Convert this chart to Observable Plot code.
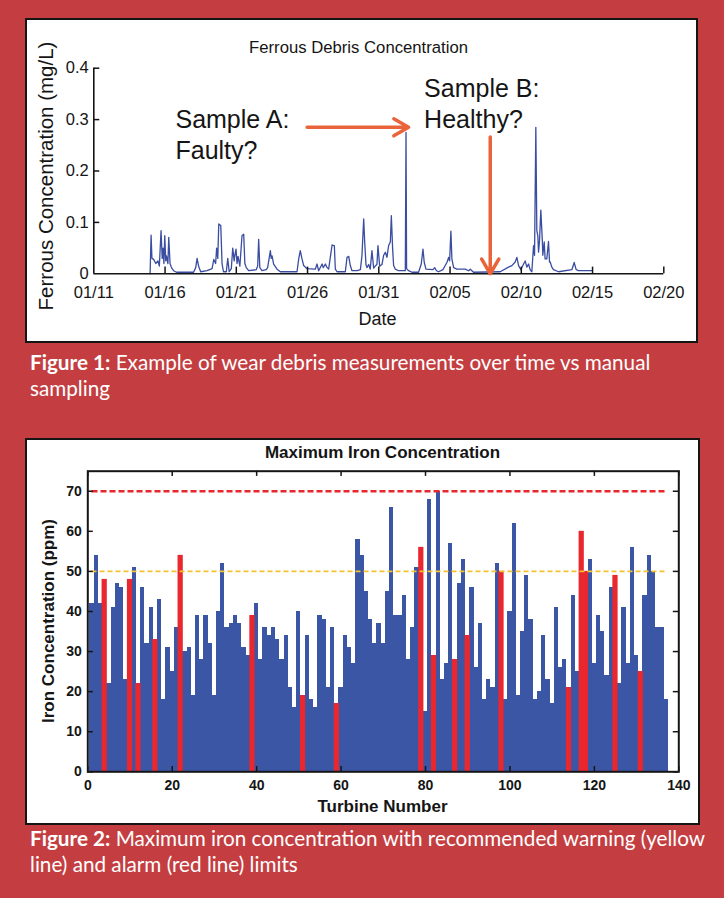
<!DOCTYPE html>
<html><head><meta charset="utf-8">
<script src="https://cdn.jsdelivr.net/npm/d3@7"></script>
<script src="https://cdn.jsdelivr.net/npm/@observablehq/plot@0.6"></script>
<style>
html,body{margin:0;padding:0;}
body{width:724px;height:898px;background:#C43E41;position:relative;overflow:hidden;font-family:Lato,"Open Sans",sans-serif;}
.box{position:absolute;background:#fff;border:2.5px solid #151515;box-sizing:border-box;}
.chart{position:absolute;}
.cap{position:absolute;left:30px;color:#fff;font-size:20.7px;line-height:26.5px;white-space:nowrap;}
.cap b{font-weight:700;}
.ylab{position:absolute;white-space:nowrap;line-height:1;color:#151515;font-family:"Liberation Sans",Arial,sans-serif;transform:translate(-50%,-50%) rotate(-90deg);}
</style></head><body>
<div class="box" style="left:25px;top:18px;width:673px;height:325px"></div>
<div id="c1" class="chart" style="left:26px;top:20px"></div>
<div class="ylab" style="left:45.5px;top:176px;font-size:20.5px">Ferrous Concentration (mg/L)</div>
<div class="cap" style="top:348.5px"><b>Figure 1:</b> Example of wear debris measurements over time vs manual<br>sampling</div>
<div class="box" style="left:25px;top:438px;width:675px;height:387px"></div>
<div id="c2" class="chart" style="left:26px;top:441px"></div>
<div class="ylab" style="left:48px;top:621px;font-size:17px;font-weight:bold">Iron Concentration (ppm)</div>
<div class="cap" style="top:824.5px"><b>Figure 2:</b> Maximum iron concentration with recommended warning (yellow<br>line) and alarm (red line) limits</div>
<script>
// ---------- Figure 1 data: days after 01/11 and ferrous concentration (mg/L)
const debrisDay = [3.95,4.02,4.08,4.2,4.35,4.5,4.6,4.72,4.8,4.86,4.92,4.98,5.05,5.1,5.2,5.26,5.35,5.45,5.6,5.8,
7.0,7.15,7.25,7.35,7.5,7.95,8.3,8.42,8.55,8.62,8.7,8.77,8.91,9.0,9.1,9.3,9.4,9.5,9.65,9.75,
9.85,9.89,9.98,10.05,10.12,10.25,10.4,10.52,10.6,10.7,10.87,11.4,11.5,11.57,11.65,11.8,12.1,12.2,12.39,12.45,
12.51,12.62,12.86,13.09,14.26,14.38,14.49,14.61,14.73,14.96,15.55,15.66,15.78,16.02,16.1,16.25,16.35,16.48,16.72,16.88,
16.95,17.07,17.65,17.77,17.89,18.0,18.12,18.47,18.71,18.82,18.94,19.01,19.1,19.17,19.29,19.4,19.52,19.64,19.75,19.87,
19.94,20.06,20.22,20.34,20.46,20.57,20.69,20.81,20.88,20.97,21.04,21.16,21.39,21.86,21.91,21.95,22.09,22.33,22.79,22.98,
23.1,23.19,23.31,23.8,23.92,24.05,24.2,24.5,24.78,24.9,24.97,25.06,25.13,25.25,25.48,26.07,26.3,26.42,26.65,28.52,
29.1,29.34,29.57,29.69,29.81,29.97,30.16,30.27,30.39,30.51,30.62,30.74,30.86,30.93,31.02,31.09,31.16,31.21,31.28,31.37,
31.47,31.51,31.61,31.67,31.79,31.91,31.98,32.03,32.14,32.26,32.61,33.55,33.71,33.85,34.01,34.95];
const debrisValue = [0,0.075,0.03,0.028,0.02,0.025,0.015,0.084,0.03,0.05,0.02,0.074,0.025,0.035,0.02,0.071,0.02,0.012,0.006,0.003,
0.003,0.012,0.03,0.015,0.004,0.006,0.01,0.028,0.02,0.05,0.03,0.097,0.094,0.02,0.004,0.004,0.03,0.004,0.01,0.05,
0.025,0.035,0.048,0.02,0.034,0.015,0.074,0.077,0.02,0.012,0.006,0.008,0.015,0.067,0.012,0.006,0.008,0.012,0.045,0.03,
0.035,0.019,0.009,0.004,0.004,0.029,0.045,0.029,0.016,0.01,0.009,0.019,0.006,0.019,0.012,0.019,0.013,0.009,0.056,0.055,
0.009,0.004,0.004,0.032,0.034,0.016,0.006,0.006,0.008,0.036,0.107,0.062,0.018,0.012,0.018,0.009,0.045,0.011,0.015,0.018,
0.055,0.015,0.018,0.036,0.042,0.032,0.055,0.062,0.113,0.049,0.016,0.009,0.006,0.006,0.275,0.01,0.006,0.003,0.003,0.019,
0.048,0.022,0.009,0.008,0.012,0.006,0.004,0.008,0.022,0.032,0.025,0.083,0.029,0.012,0.009,0.009,0.006,0.009,0.003,0.004,
0.013,0.016,0.023,0.032,0.016,0.008,0.019,0.025,0.013,0.019,0.008,0.004,0.055,0.036,0.285,0.084,0.074,0.042,0.065,0.124,
0.068,0.036,0.062,0.029,0.029,0.063,0.023,0.023,0.013,0.008,0.004,0.008,0.022,0.008,0.006,0.006];
const dateTickLabels = ["01/11","01/16","01/21","01/26","01/31","02/05","02/10","02/15","02/20"];
const debrisTicks = [0, 0.1, 0.2, 0.3, 0.4];
const debrisTickLabels = ["0", "0.1", "0.2", "0.3", "0.4"];
// annotations
const noteText = ["Sample A:\nFaulty?", "Sample B:\nHealthy?"];
const noteDay = [5.73, 23.18];
const noteValue = [0.3274, 0.386];
const arrowFromDay = [14.97, 27.82], arrowFromValue = [0.285, 0.266];
const arrowToDay = [22.09, 27.82], arrowToValue = [0.285, 0.0];

// ---------- Figure 2 data: max iron concentration (ppm) for turbines 1..137
const ironPpm = [42,54,42,48,22,41,47,46,23,48,51,22,46,32,41,33,43,18,31,25,
36,54,30,31,19,39,28,39,32,19,40,52,36,37,39,37,31,29,39,42,
28,36,34,36,33,28,34,21,16,40,19,34,18,16,39,38,21,36,17,21,
34,31,27,58,54,45,38,32,37,32,45,66,39,39,44,28,36,51,56,15,
68,29,70,23,27,57,28,47,53,34,46,26,37,18,23,21,52,50,18,40,
62,19,35,49,38,18,20,34,23,17,41,26,28,21,44,25,60,50,53,27,
39,35,24,46,49,22,41,27,56,29,25,44,54,50,36,36,18];
const alarmTurbines = [4,10,12,16,22,39,51,59,79,82,87,90,98,114,117,118,125,131];
const turbineTicks = [0,20,40,60,80,100,120,140];
const ppmTicks = [0,10,20,30,40,50,60,70];
const limitValues = [50, 70];
const limitColors = ["#F3C22E", "#E8262D"];

// ---------- Figure 1
const day0 = Date.UTC(2013, 0, 11);
const toDate = d => new Date(day0 + d * 864e5);
const debris = debrisDay.map((d, i) => ({date: toDate(d), value: debrisValue[i]}));
const xTicks = dateTickLabels.map(s => { const [m, dd] = s.split("/"); return new Date(Date.UTC(2013, +m - 1, +dd)); });
const notes = noteText.map((t, i) => ({text: t, date: toDate(noteDay[i]), value: noteValue[i]}));
const arrows = arrowFromDay.map((d, i) => ({x1: toDate(d), y1: arrowFromValue[i], x2: toDate(arrowToDay[i]), y2: arrowToValue[i]}));
const ink = "#151515";

const p1 = Plot.plot({
  width: 671, height: 322,
  marginLeft: 67.3, marginRight: 33.7, marginTop: 47.7, marginBottom: 68.7,
  style: {fontFamily: '"Liberation Sans", Arial, sans-serif', fontSize: "16.5px", background: "transparent", color: ink, overflow: "visible"},
  x: {type: "utc", domain: [xTicks[0], xTicks[xTicks.length - 1]]},
  y: {domain: [0, 0.4]},
  marks: [
    Plot.line(debris, {x: "date", y: "value", stroke: "#3A4DA0", strokeWidth: 1.3}),
    Plot.ruleY([0], {stroke: ink, strokeWidth: 1.6}),
    Plot.ruleX([xTicks[0]], {stroke: ink, strokeWidth: 1.6}),
    Plot.ruleX(xTicks.slice(1), {y1: 0, y2: 0.013, stroke: ink, strokeWidth: 1.5}),
    Plot.ruleY(debrisTicks.slice(1), {x1: xTicks[0], x2: toDate(0.42), stroke: ink, strokeWidth: 1.5}),
    Plot.axisX({ticks: xTicks, tickSize: 0, tickPadding: 12, tickFormat: d3.utcFormat("%m/%d"), label: null}),
    Plot.axisY({ticks: debrisTicks, tickSize: 0, tickPadding: 5, tickFormat: d => debrisTickLabels[debrisTicks.indexOf(d)], label: null}),
    Plot.arrow(arrows, {x1: "x1", y1: "y1", x2: "x2", y2: "y2", stroke: "#E9643A", strokeWidth: 3.5, headLength: 7.3, headAngle: 60}),
    Plot.text(notes, {x: "date", y: "value", text: "text", textAnchor: "start", lineAnchor: "top", fontSize: 25, lineHeight: 1.24, fill: ink}),
    Plot.text(["Ferrous Debris Concentration"], {text: d => d, frameAnchor: "top-left", textAnchor: "middle", lineAnchor: "middle", dx: 264.7, dy: -20.8, fontSize: 16.7, fill: ink}),
    Plot.text(["Date"], {text: d => d, frameAnchor: "top-left", textAnchor: "middle", lineAnchor: "middle", dx: 283.7, dy: 251.5, fontSize: 18, fill: ink})
  ]
});
document.getElementById("c1").append(p1);

// ---------- Figure 2
const bars = ironPpm.map((v, i) => ({turbine: i + 1, ppm: v, alarm: alarmTurbines.includes(i + 1)}));
const p2 = Plot.plot({
  width: 673, height: 383,
  marginLeft: 61.3, marginRight: 20.7, marginTop: 29.7, marginBottom: 52.7,
  style: {fontFamily: '"Liberation Sans", Arial, sans-serif', fontSize: "14px", fontWeight: "bold", background: "transparent", color: ink, overflow: "visible"},
  x: {domain: [0, 140]},
  y: {domain: [0, 75]},
  marks: [
    Plot.rect(bars, {x1: d => d.turbine - 0.5, x2: d => d.turbine + 0.5, y1: 0, y2: "ppm", fill: "#3B56A5", shapeRendering: "crispEdges"}),
    Plot.rect(bars.filter(d => d.alarm), {x1: d => d.turbine - 0.62, x2: d => d.turbine + 0.62, y1: 0, y2: "ppm", fill: "#E8272E"}),
    Plot.ruleY([limitValues[0]], {x1: 1, x2: 137, stroke: limitColors[0], strokeWidth: 1.8, strokeDasharray: "5,3"}),
    Plot.ruleY([limitValues[1]], {x1: 1, x2: 137, stroke: limitColors[1], strokeWidth: 2.4, strokeDasharray: "6,3"}),
    Plot.ruleX(turbineTicks, {y1: 0, y2: 1.3, stroke: ink, strokeWidth: 1.5}),
    Plot.ruleX(turbineTicks, {y1: 75, y2: 73.7, stroke: ink, strokeWidth: 1.5}),
    Plot.ruleY(ppmTicks, {x1: 0, x2: 1.3, stroke: ink, strokeWidth: 1.5}),
    Plot.ruleY(ppmTicks, {x1: 140, x2: 138.7, stroke: ink, strokeWidth: 1.5}),
    Plot.frame({stroke: ink, strokeWidth: 2}),
    Plot.axisX({ticks: turbineTicks, tickSize: 0, tickPadding: 8, label: null}),
    Plot.axisY({ticks: ppmTicks, tickSize: 0, tickPadding: 6, label: null}),
    Plot.text(["Maximum Iron Concentration"], {text: d => d, frameAnchor: "top-left", textAnchor: "middle", lineAnchor: "middle", dx: 294.7, dy: -18.7, fontSize: 17, fontWeight: "bold", fill: ink}),
    Plot.text(["Turbine Number"], {text: d => d, frameAnchor: "top-left", textAnchor: "middle", lineAnchor: "middle", dx: 294.7, dy: 335.3, fontSize: 17, fontWeight: "bold", fill: ink})
  ]
});
document.getElementById("c2").append(p2);
</script>
</body></html>
